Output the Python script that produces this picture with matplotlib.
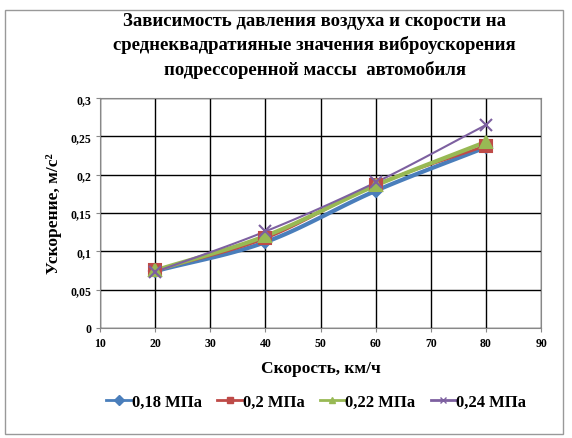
import matplotlib
matplotlib.use("Agg")
import matplotlib.pyplot as plt
import numpy as np

plt.rcParams['font.family'] = ['Liberation Serif', 'DejaVu Serif']
plt.rcParams['font.weight'] = 'bold'

speed = [20, 40, 60, 80]
p018 = [0.074, 0.112, 0.179, 0.236]
p020 = [0.075, 0.117, 0.187, 0.238]
p022 = [0.075, 0.120, 0.186, 0.243]
p024 = [0.073, 0.126, 0.190, 0.265]
labels = ['0,18 МПа', '0,2 МПа', '0,22 МПа', '0,24 МПа']


def smooth(x, y, n=30):
    # Catmull-Rom spline through the points (like Excel smoothed lines)
    x = np.asarray(x, float)
    y = np.asarray(y, float)
    px = np.concatenate([[2 * x[0] - x[1]], x, [2 * x[-1] - x[-2]]])
    py = np.concatenate([[2 * y[0] - y[1]], y, [2 * y[-1] - y[-2]]])
    xs, ys = [], []
    t = np.linspace(0, 1, n)
    for i in range(1, len(px) - 2):
        for p, out in ((px, xs), (py, ys)):
            p0, p1, p2, p3 = p[i - 1], p[i], p[i + 1], p[i + 2]
            out.extend(0.5 * (2 * p1 + (-p0 + p2) * t
                              + (2 * p0 - 5 * p1 + 4 * p2 - p3) * t ** 2
                              + (-p0 + 3 * p1 - 3 * p2 + p3) * t ** 3))
    return xs, ys


fig = plt.figure(figsize=(5.72, 4.39), dpi=100)
ax = fig.add_axes([0.175, 0.251, 0.771, 0.523])

series = [p018, p020, p022, p024]
colors = ['#4a7ebb', '#be4b48', '#98b954', '#7d60a0']
markers = ['D', 's', '^', 'x']
lws = [3.0, 2.0, 3.0, 1.5]
msizes = [6, 8, 8, 8]
handles = []
for vals, c, m, lw, ms, lab in zip(series, colors, markers, lws, msizes, labels):
    sx, sy = smooth(speed, vals)
    ax.plot(sx, sy, color=c, lw=lw, zorder=3)
    ax.plot(speed, vals, ls='none', marker=m, color=c, ms=ms,
            mew=1.5, zorder=4)
    h, = ax.plot([], [], color=c, lw=2, marker=m, ms=5, label=lab)
    handles.append(h)

ax.set_xlim(10, 90)
ax.set_ylim(0, 0.3)
ax.set_xticks(np.arange(10, 91, 10))
ax.set_yticks(np.arange(0, 0.301, 0.05))
ax.set_yticklabels(['0', '0,05', '0,1', '0,15', '0,2', '0,25', '0,3'])
ax.grid(True, color='black', lw=1)
ax.set_axisbelow(True)
for s in ax.spines.values():
    s.set_color('#888888')
    s.set_linewidth(0.8)
ax.tick_params(labelsize=8.5, length=3, color='#888888')
for t in ax.get_xticklabels() + ax.get_yticklabels():
    t.set_fontweight('bold')

ax.set_xlabel('Скорость, км/ч', fontsize=12.5, fontweight='bold', labelpad=8)
ax.set_ylabel('Ускорение, м/с²', fontsize=12.5, fontweight='bold',
              labelpad=6)

fig.text(0.55, 0.97,
         'Зависимость давления воздуха и скорости на\n'
         'среднеквадратияные значения виброускорения\n'
         'подрессоренной массы  автомобиля',
         ha='center', va='top', fontsize=13.5, fontweight='bold',
         linespacing=1.45)

fig.legend(handles=handles, loc='center', bbox_to_anchor=(0.553, 0.082),
           ncol=4, frameon=False, handlelength=1.5,
           handletextpad=0.05, columnspacing=0.9,
           prop={'weight': 'bold', 'size': 12})

border = plt.Rectangle((0.009, 0.01), 0.975, 0.965, transform=fig.transFigure,
                       fill=False, edgecolor='#999999', lw=1)
fig.patches.append(border)

fig.savefig('out.png', dpi=100)
